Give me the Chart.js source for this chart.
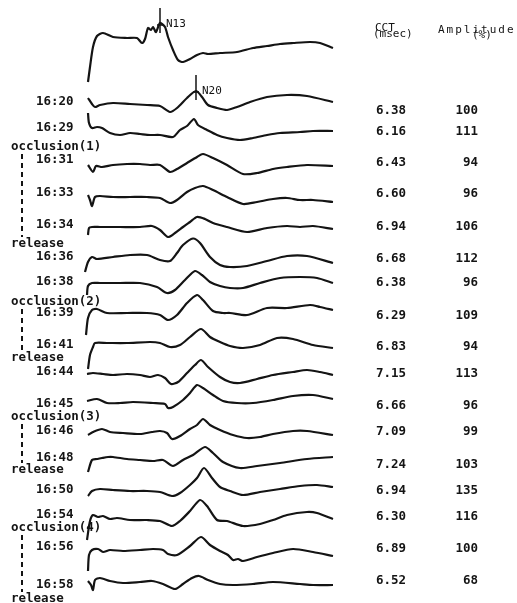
<!DOCTYPE html>
<html>
<head>
<meta charset="utf-8">
<script src="https://cdn.jsdelivr.net/npm/chart.js@4/dist/chart.umd.min.js"></script>
<style>
  html, body { margin: 0; padding: 0; background: #fff; }
  canvas { display: block; }
</style>
</head>
<body>
<canvas id="sepChart" width="517" height="603"></canvas>
<script>
// recording times, central conduction time (msec) and N20 amplitude (%)
const times = ['16:20', '16:29', '16:31', '16:33', '16:34', '16:36', '16:38', '16:39', '16:41',
               '16:44', '16:45', '16:46', '16:48', '16:50', '16:54', '16:56', '16:58'];
const cct = ['6.38', '6.16', '6.43', '6.60', '6.94', '6.68', '6.38', '6.29', '6.83',
             '7.15', '6.66', '7.09', '7.24', '6.94', '6.30', '6.89', '6.52'];
const amplitude = [100, 111, 94, 96, 106, 112, 96, 109, 94, 113, 96, 99, 103, 135, 116, 100, 68];
const phases = ['occlusion(1)', 'release', 'occlusion(2)', 'release',
                'occlusion(3)', 'release', 'occlusion(4)', 'release'];

// waveforms as [sample, amplitude] pairs (sample 0 = start of sweep)
const traceN13 = [[0,-45],[2,-30],[5,-10],[9,1],[15,4],[25,0],[39,-1],[49,-1],[54,-6],[57,-2],[60,9],[63,7],[65,10],[68,5],[72,14],[77,10],[80,0],[85,-13],[90,-23],[95,-25],[102,-22],[109,-18],[115,-16],[120,-17],[132,-16],[149,-15],[165,-11],[179,-9],[192,-7],[205,-6],[222,-5],[232,-6],[245,-11]];
const trace1620 = [[0,6],[4,0],[7,-3],[12,-1],[25,1],[42,0],[59,-1],[72,-2],[82,-8],[89,-4],[99,6],[108,13],[114,7],[120,-1],[129,-4],[139,-6],[149,-3],[162,2],[179,7],[199,9],[219,8],[245,2]];
const trace1629 = [[0,21],[1,11],[4,6],[9,7],[14,6],[22,1],[32,-1],[42,1],[52,0],[62,-1],[72,-1],[85,-3],[92,4],[99,8],[106,15],[110,9],[119,4],[129,-1],[139,-4],[152,-6],[165,-4],[179,-1],[192,1],[212,2],[225,3],[245,3]];
const trace1631 = [[0,0],[5,-7],[8,-1],[14,-2],[25,0],[39,1],[52,1],[62,0],[72,0],[82,-7],[89,-4],[99,2],[109,8],[115,11],[125,7],[139,0],[155,-9],[169,-8],[185,-4],[199,-2],[219,0],[245,-1]];
const trace1633 = [[0,2],[2,-3],[4,-9],[7,0],[12,1],[25,0],[42,0],[59,0],[72,-1],[82,-6],[89,-3],[99,5],[107,9],[115,11],[125,7],[139,0],[155,-7],[169,-5],[185,-2],[199,-1],[212,-3],[225,-3],[245,-5]];
const trace1634 = [[0,-8],[1,-1],[4,0],[12,0],[32,0],[52,0],[64,1],[72,-3],[80,-10],[87,-6],[95,0],[102,5],[109,10],[117,8],[125,4],[139,0],[159,-5],[179,-1],[199,1],[212,0],[225,1],[245,-2]];
const trace1636 = [[-3,-16],[0,-6],[4,-1],[9,-3],[25,-1],[42,1],[59,1],[72,-4],[82,-5],[89,3],[95,11],[105,17.5],[112,13],[122,-1],[132,-9],[142,-11],[159,-10],[179,-5],[199,0],[219,0],[245,-7]];
const trace1638 = [[-1,-12],[0,-3],[4,0],[12,0],[32,0],[52,0],[69,-4],[79,-10],[87,-7],[97,3],[107,12],[114,8],[122,1],[132,-3],[142,-5],[155,-5],[172,0],[192,5],[212,6],[229,5],[245,0]];
const trace1639 = [[-2,-23],[0,-6],[4,2],[9,3],[19,-1],[39,-1],[59,-1],[72,-3],[80,-8],[89,-3],[99,9],[109,17],[115,12],[125,1],[135,-1],[142,-1],[159,-3],[179,4],[199,4],[222,7],[232,5],[245,2]];
const trace1641 = [[0,-26],[2,-12],[5,-4],[7,0],[19,0],[39,0],[62,1],[72,0],[82,-4],[92,-2],[102,6],[113,14],[122,6],[132,1],[142,-3],[155,-5],[172,-2],[189,5],[205,4],[225,-2],[245,-5]];
const trace1644 = [[-1,1],[5,2],[15,1],[25,0],[39,1],[52,0],[62,-2],[70,0],[77,-3],[83,-9],[90,-7],[99,2],[107,10],[113,15],[120,8],[132,-2],[142,-7],[152,-8],[169,-4],[185,0],[205,3],[219,5],[232,3],[245,0]];
const trace1645 = [[-1,1],[9,3],[19,-1],[32,-1],[45,0],[65,-1],[77,-2],[80,-6],[85,-5],[95,2],[102,9],[109,17],[115,14],[125,7],[135,1],[149,-1],[165,-1],[185,2],[205,6],[225,7],[245,3]];
const trace1646 = [[0,-2],[5,1],[14,4],[22,1],[35,0],[52,-1],[64,1],[72,2],[79,0],[84,-6],[92,-3],[102,4],[109,8],[115,14],[122,8],[132,3],[145,-2],[159,-5],[172,-4],[185,-1],[205,2],[219,2],[245,-2]];
const trace1648 = [[0,-13],[4,-1],[9,0],[14,1],[20,2],[25,2],[39,0],[52,-1],[65,-2],[75,-1],[85,-7],[95,-1],[105,4],[117,12],[125,6],[135,-3],[152,-9],[169,-7],[192,-4],[219,0],[245,2]];
const trace1650 = [[0,-6],[4,-1],[12,1],[25,0],[42,-1],[59,-1],[72,-2],[84,-6],[92,-3],[102,5],[109,12],[116,22],[124,12],[132,3],[142,-1],[155,-5],[172,-2],[192,1],[212,4],[229,5],[245,3]];
const trace1654 = [[-1,-22],[2,-3],[5,3],[10,1],[15,2],[22,-1],[29,0],[42,-2],[59,-2],[72,-3],[84,-8],[92,-3],[102,7],[112,18],[119,12],[129,-2],[139,-3],[155,-8],[172,-6],[185,-2],[199,3],[219,6],[229,5],[245,-1]];
const trace1656 = [[0,-21],[1,-5],[4,0],[10,1],[15,-2],[22,0],[35,-1],[52,0],[65,1],[75,0],[80,-4],[89,-5],[102,4],[113,13],[122,5],[132,-1],[140,-5],[145,-10],[150,-9],[155,-11],[169,-7],[185,-3],[205,1],[225,-2],[245,-6]];
const trace1658 = [[0,0],[3,-4],[5,-9],[7,1],[12,3],[22,0],[35,-2],[52,-1],[64,0],[75,-3],[87,-8],[95,-3],[104,3],[111,5],[120,1],[132,-3],[145,-4],[165,-3],[185,-1],[212,-3],[225,-4],[245,-4]];

const traces = [traceN13, trace1620, trace1629, trace1631, trace1633, trace1634, trace1636, trace1638,
                trace1639, trace1641, trace1644, trace1645, trace1646, trace1648, trace1650, trace1654,
                trace1656, trace1658];

// layout: vertical placement of each trace and of the text columns (px)
const traceBase = [37, 104, 134, 165, 197, 227, 256, 283, 312, 343, 375, 402, 433, 459, 490, 518, 550, 581];
const timeY = [101.5, 127.5, 160, 192.5, 224.5, 256.5, 282, 312.5, 345, 371.5, 404, 430.5, 458, 490, 515, 547, 585];
const valueY = [111, 132, 163, 194, 227, 259, 283, 316, 347, 374, 406, 432, 465, 491, 517, 549, 581];
const phaseY = [147, 244, 302, 358, 417, 470, 528, 599];

const ink = '#141414';
const mono = '"DejaVu Sans Mono", "Liberation Mono", monospace';

const labelsPlugin = {
    id: 'labels',
    afterDatasetsDraw(chart) {
        const ctx = chart.ctx;
        const xs = chart.scales.x, ys = chart.scales.y;
        ctx.save();
        ctx.strokeStyle = ink;
        ctx.fillStyle = ink;

        // N13 / N20 peak markers
        const markers = [[0, 72, 'N13'], [1, 108, 'N20']];
        markers.forEach(([row, s, name]) => {
            const px = xs.getPixelForValue(s);
            const top = ys.getPixelForValue(29 - traceBase[row]);
            const bot = ys.getPixelForValue(4 - traceBase[row]);
            ctx.lineWidth = 1.5;
            ctx.beginPath();
            ctx.moveTo(px, top); ctx.lineTo(px, bot);
            ctx.moveTo(px - 3, bot - 8); ctx.lineTo(px + 3, bot - 8);
            ctx.stroke();
            ctx.font = '11px ' + mono;
            ctx.textBaseline = 'middle';
            ctx.textAlign = 'left';
            ctx.fillText(name, px + 6, bot - 9);
        });

        ctx.font = 'bold 12.5px ' + mono;
        ctx.textBaseline = 'middle';
        ctx.textAlign = 'left';
        times.forEach((t, i) => ctx.fillText(t, 36, timeY[i]));
        phases.forEach((p, i) => ctx.fillText(p, 11, phaseY[i]));

        // dashed bars for each occlusion period
        ctx.lineWidth = 2;
        ctx.setLineDash([5, 4]);
        for (let k = 0; k < phaseY.length; k += 2) {
            ctx.beginPath();
            ctx.moveTo(22, phaseY[k] + 7);
            ctx.lineTo(22, phaseY[k + 1] - 7);
            ctx.stroke();
        }
        ctx.setLineDash([]);

        cct.forEach((v, i) => ctx.fillText(v, 376, valueY[i]));
        ctx.textAlign = 'right';
        amplitude.forEach((v, i) => ctx.fillText(String(v), 478, valueY[i]));

        // column headers
        ctx.textAlign = 'left';
        ctx.font = '11px ' + mono;
        ctx.fillText('CCT', 375, 28);
        ctx.fillText('(msec)', 373, 34);
        ctx.letterSpacing = '2px';
        ctx.fillText('Amplitude', 438, 30);
        ctx.letterSpacing = '0px';
        ctx.fillText('(%)', 472, 35);
        ctx.restore();
    }
};

new Chart(document.getElementById('sepChart'), {
    type: 'scatter',
    data: {
        datasets: traces.map((tr, i) => ({
            data: tr.map(([s, v]) => ({ x: s, y: v - traceBase[i] })),
            showLine: true,
            borderColor: ink,
            borderWidth: 2.2,
            pointRadius: 0,
            tension: 0.25,
            fill: false
        }))
    },
    options: {
        responsive: false,
        animation: false,
        devicePixelRatio: 1,
        layout: { padding: 0 },
        clip: false,
        plugins: { legend: { display: false }, tooltip: { enabled: false } },
        scales: {
            x: { type: 'linear', min: -88, max: 429, display: false },
            y: { type: 'linear', min: -603, max: 0, display: false }
        }
    },
    plugins: [labelsPlugin]
});
</script>
</body>
</html>
